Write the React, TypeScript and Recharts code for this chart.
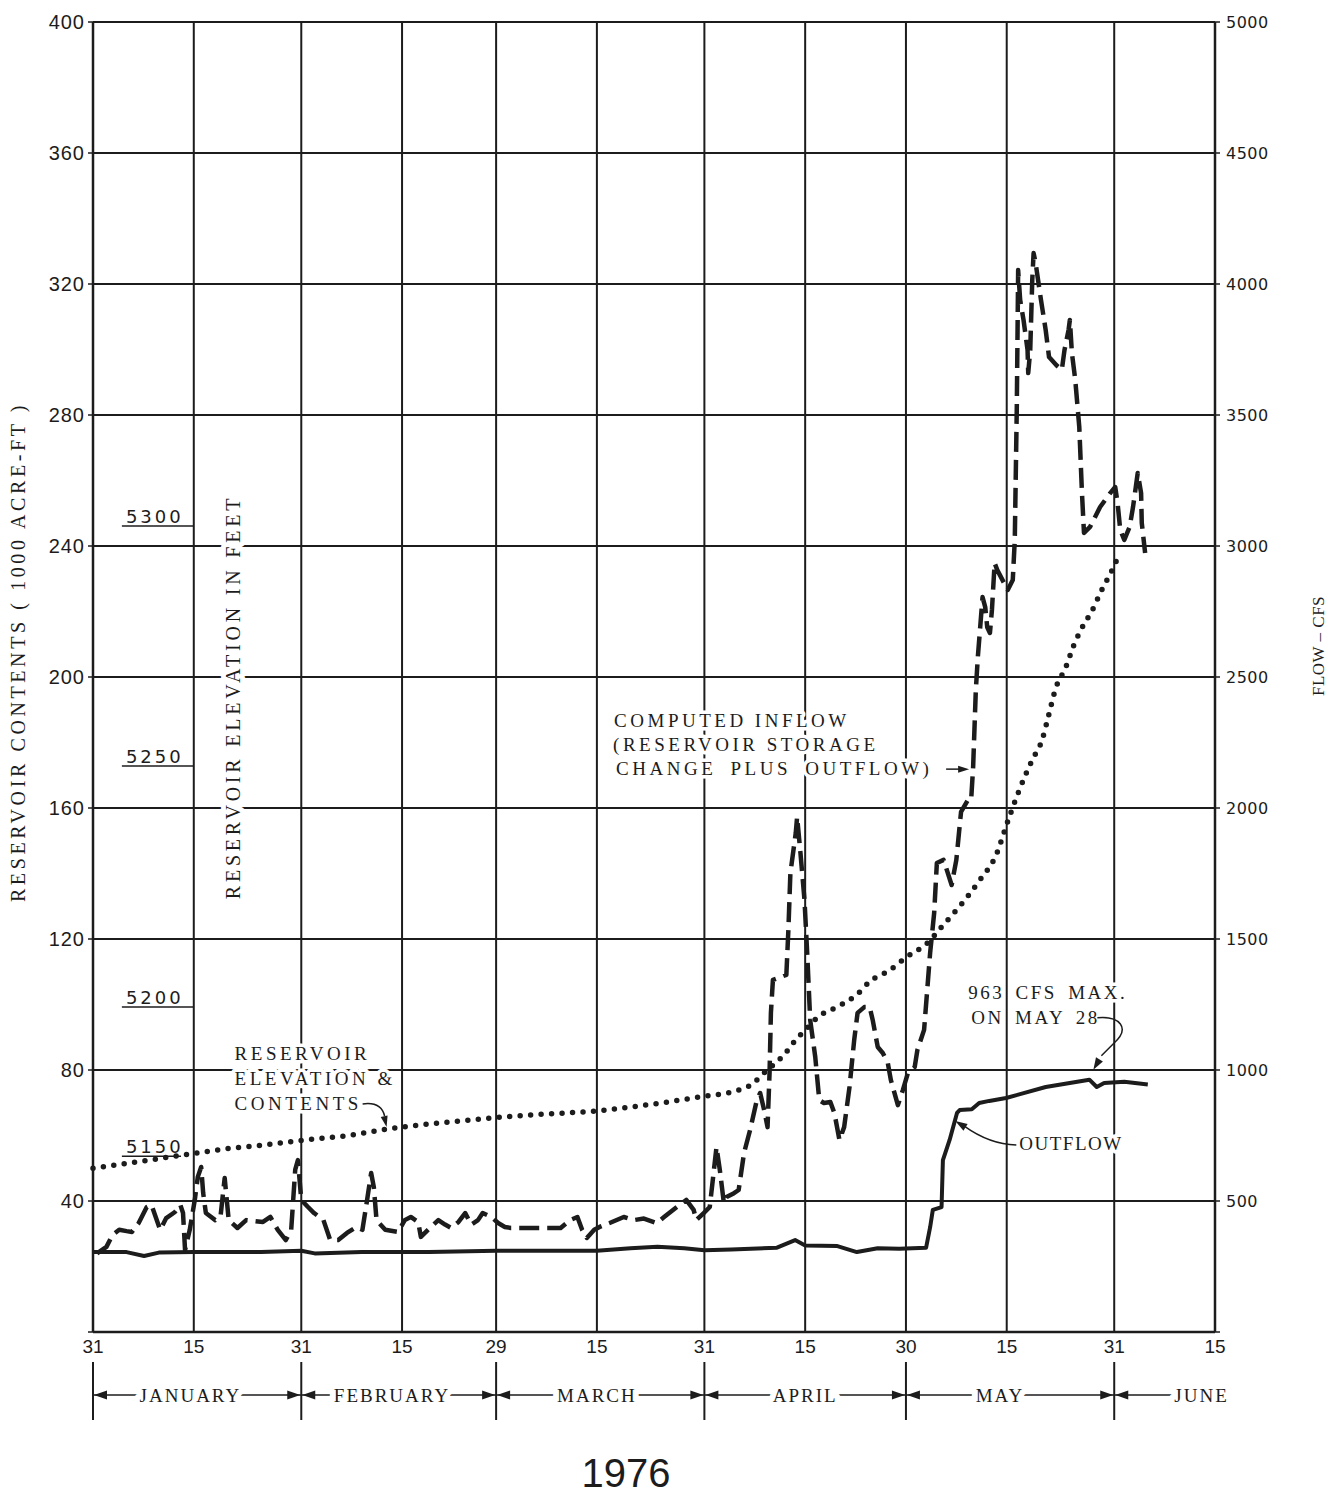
import React from "react";
import {
  ComposedChart,
  Line,
  XAxis,
  YAxis,
  CartesianGrid,
  ReferenceLine,
  ReferenceDot,
} from "recharts";

// x axis = days after Dec 31, 1975
const dayTicks = [0, 15, 31, 46, 60, 75, 91, 106, 121, 136, 152, 167];
const dayTickLabels = ["31", "15", "31", "15", "29", "15", "31", "15", "30", "15", "31", "15"];

const contentsTicks = [0, 40, 80, 120, 160, 200, 240, 280, 320, 360, 400];
const flowTicks = [0, 500, 1000, 1500, 2000, 2500, 3000, 3500, 4000, 4500, 5000];

const monthBounds = [0, 31, 60, 91, 121, 152];
const monthNames = ["JANUARY", "FEBRUARY", "MARCH", "APRIL", "MAY", "JUNE"];
const monthCenters = [14.5, 44.5, 75, 106, 135, 165];

// reservoir elevation (ft) vs contents (1000 acre-ft)
const elevationFeet = [5150, 5200, 5250, 5300];
const elevationContents = [53.7, 99.2, 172.8, 246.1];

// reservoir contents, 1000 acre-ft (dotted)
const contentsDays = [
  0, 5, 10, 15, 20, 25, 31, 38, 44, 50, 55, 60, 67, 75, 83, 91, 95.5, 98.3, 99.8, 101.5,
  103, 104.5, 106.3, 107.8, 111, 113.7, 115.6, 118.6, 121.1, 124.2, 126.3, 129, 132,
  134.5, 136, 137.7, 139.8, 141.3, 142.2, 143.3, 144.8, 146, 147.6, 148.6, 150, 151.7, 152.5,
];
const contentsKaf = [
  50, 51.5, 53, 54.5, 56, 57, 58.5, 60, 62, 63.5, 64.5, 65.5, 66.5, 67.5, 69.5, 72, 73.5, 76, 79, 82,
  85, 89, 92.8, 96, 99.5, 103, 107, 110.5, 114.5, 118.8, 123.7, 130, 138,
  146, 155, 164.6, 174.7, 181, 188, 196.6, 203, 209.8, 216.5, 219.8, 226, 232.7, 236.3,
];

// outflow, cfs (solid)
const outflowDays = [
  0, 5, 7.6, 9.8, 15, 25, 31, 33, 40, 50, 60, 70, 75, 80, 84, 88, 91, 95, 101.8, 104.5,
  106, 110.8, 113.7, 116.8, 120, 124, 124.6, 125, 126.3, 126.5, 127.5, 128.6, 129, 130.8,
  131.9, 133.4, 135.9, 141.8, 148.3, 149.4, 150.5, 153.5, 157,
];
const outflowCfs = [
  305, 305, 290, 303, 305, 305, 310, 300, 305, 305, 310, 310, 310, 320, 325, 320, 312, 315, 322, 351,
  330, 328, 305, 320, 318, 322, 400, 466, 477, 656, 733, 836, 847, 850,
  874, 882, 893, 935, 963, 935, 950, 955, 945,
];

// computed inflow, cfs (dashed)
const inflowDays = [
  0.6, 2, 2.9, 3.9, 5, 5.8, 6.8, 8, 8.7, 10, 10.9, 12.2, 13, 13.4, 13.7, 14.4, 15.15, 15.6, 16.1, 16.4,
  16.8, 18.2, 19, 19.6, 20.2, 21.5, 22.8, 25.3, 26.4, 27.5, 28.7, 29.5, 30.1, 30.5, 31, 32, 32.9, 34.3,
  35.3, 36.5, 37.8, 39.2, 40.1, 40.8, 41.4, 41.8, 42.2, 43.5, 45.4, 46.4, 47.3, 48.4, 48.8, 50.3, 51.4,
  52.4, 53.3, 54.4, 55.4, 56.3, 57.3, 58, 59.3, 60.3, 61.3, 62.2, 69.6, 71, 72.1, 72.8, 73.5, 74.6,
  75.4, 76.9, 79, 80.5, 82, 83.9, 85, 86.9, 88.3, 89.4, 89.8, 90.9, 91.8, 92.8, 93.3, 93.9, 94.3, 95.4,
  96.1, 96.9, 97.8, 98.8, 99.3, 99.9, 100.4, 100.7, 100.9, 101.2, 103.2, 103.5, 103.8, 104.6, 104.8,
  105.3, 105.9, 106.3, 106.75, 107.5, 108.1, 108.8, 109.75, 110.35, 111.1, 111.8, 112.6, 113.3, 113.8,
  114.8, 115.6, 116.05, 116.8, 117.55, 118.3, 118.75, 119.8, 120.55, 121.3, 122.3, 122.7, 123.7, 124.6,
  125.2, 125.6, 126.6, 127.8, 128.5, 129.2, 130.2, 130.7, 131, 131.4, 131.7, 132.1, 132.4, 132.8,
  133.1, 133.5, 133.8, 134.2, 134.6, 136.15, 136.9, 137.2, 137.5, 137.7, 138, 138.5, 139.1, 139.2,
  139.5, 139.8, 140, 140.3, 141.1, 141.8, 142.3, 143.4, 144.2, 144.6, 145.2, 145.4, 145.7, 146.2,
  146.8, 147.2, 147.5, 148.4, 149.9, 151.4, 152.15, 152.5, 152.9, 153.5, 154.3, 154.8, 155.5, 156,
  156.1, 156.6,
];
const inflowCfs = [
  300, 325, 370, 390, 385, 382, 416, 477, 485, 390, 435, 458, 485, 454, 313, 390, 504, 592, 630, 530,
  454, 427, 446, 588, 427, 397, 427, 420, 439, 390, 351, 390, 620, 656, 504, 477, 454, 427,
  351, 351, 378, 401, 390, 504, 607, 553, 427, 390, 382, 427, 439, 420, 363, 401, 427,
  410, 397, 420, 454, 410, 427, 454, 439, 416, 401, 397, 397, 427, 439, 390, 359, 390,
  401, 416, 439, 427, 433, 416, 439, 477, 504, 466, 427, 454, 477, 706, 618, 492, 515, 530,
  542, 683, 771, 885, 912, 847, 782, 989, 1218, 1344, 1363, 1534, 1752, 1905, 1966,
  1828, 1649, 1447, 1191, 1050, 885, 874, 878, 836, 733, 782, 935, 1115, 1218,
  1240, 1240, 1191, 1088, 1065, 1027, 962, 866, 924, 989, 1011, 1076, 1153, 1447,
  1599, 1790, 1802, 1706, 1802, 1985, 2030, 2030, 2156, 2450, 2576, 2706, 2805, 2767,
  2690, 2668, 2756, 2935, 2908, 2832, 2870, 3023, 3530, 4053, 3939, 3863, 3748, 3660,
  3748, 4015, 4118, 4080, 3939, 3824, 3721, 3690, 3672, 3748, 3824, 3863, 3737, 3634,
  3454, 3202, 3050, 3073, 3149, 3202, 3225, 3164, 3061, 3023, 3073, 3149, 3279, 3202,
  3088, 2973,
];

const zip = (xs: number[], ys: number[]) => xs.map((d, i) => ({ day: d, v: ys[i] }));
const contentsData = zip(contentsDays, contentsKaf);
const outflowData = zip(outflowDays, outflowCfs);
const inflowData = zip(inflowDays, inflowCfs);
const monthTicks = [...monthBounds, ...monthCenters].sort((a, b) => a - b);

const INK = "#1c1c1c";
const SERIF = '"Liberation Serif", "DejaVu Serif", serif';
const SANS = '"Liberation Sans", Arial, sans-serif';
const GEO = '"DejaVu Sans", sans-serif';

const noteText = {
  fontFamily: SERIF,
  fontSize: 19,
  letterSpacing: 3.5,
  fill: INK,
  stroke: "#fff",
  strokeWidth: 7,
  paintOrder: "stroke" as const,
  strokeLinejoin: "round" as const,
};

function head(tx: number, ty: number, fx: number, fy: number, len = 13, half = 4.5) {
  const a = Math.atan2(ty - fy, tx - fx);
  const bx = tx - len * Math.cos(a);
  const by = ty - len * Math.sin(a);
  const px = -Math.sin(a) * half;
  const py = Math.cos(a) * half;
  return `${tx},${ty} ${bx + px},${by + py} ${bx - px},${by - py}`;
}

function MonthTick(props: any) {
  const { x, y, payload } = props;
  const v = payload.value;
  const b = monthBounds.indexOf(v);
  if (b >= 0) {
    return (
      <g>
        <line x1={x} x2={x} y1={y - 33} y2={y + 25} stroke={INK} strokeWidth={2} />
        {b > 0 && <polygon points={head(x - 1, y, x - 20, y)} fill={INK} />}
        <polygon points={head(x + 1, y, x + 20, y)} fill={INK} />
      </g>
    );
  }
  const m = monthCenters.indexOf(v);
  return (
    <text x={x} y={y + 7} textAnchor="middle" {...noteText} letterSpacing={2} strokeWidth={12}>
      {monthNames[m]}
    </text>
  );
}

function YearLabel(props: any) {
  const vb = props.viewBox ?? { x: 93, y: 1395, width: 1122, height: 40 };
  return (
    <text x={vb.x + vb.width / 2 - 28} y={vb.y + 92} textAnchor="middle" fontFamily={SANS} fontSize={40} fill={INK}>
      1976
    </text>
  );
}

function LeftLabels(props: any) {
  const vb = props.viewBox ?? { x: 33, y: 22, width: 60, height: 1310 };
  const mid = vb.y + vb.height / 2;
  return (
    <g>
      <text
        transform={`translate(${vb.x - 15},${mid - 25}) rotate(-90)`}
        textAnchor="middle"
        dominantBaseline="central"
        fontFamily={SERIF}
        fontSize={20}
        letterSpacing={3.6}
        fill={INK}
      >
        RESERVOIR  CONTENTS  ( 1000  ACRE-FT )
      </text>
      <text
        transform={`translate(${vb.x + 200},${mid + 20}) rotate(-90)`}
        textAnchor="middle"
        dominantBaseline="central"
        {...noteText}
        fontSize={20}
        letterSpacing={3.8}
        strokeWidth={10}
      >
        RESERVOIR  ELEVATION  IN  FEET
      </text>
    </g>
  );
}

function RightLabel(props: any) {
  const vb = props.viewBox ?? { x: 1215, y: 22, width: 80, height: 1310 };
  return (
    <text
      transform={`translate(${vb.x + 103},${vb.y + 624}) rotate(-90)`}
      textAnchor="middle"
      dominantBaseline="central"
      fontFamily={SERIF}
      fontSize={17}
      letterSpacing={0.5}
      fill={INK}
    >
      FLOW – CFS
    </text>
  );
}

function ElevLabel(props: any) {
  const vb = props.viewBox;
  if (!vb) return null;
  return (
    <text x={vb.x + 4} y={vb.y - 3} fontFamily={GEO} fontSize={18} letterSpacing={3} fill={INK}>
      {props.text}
    </text>
  );
}

function InflowNote({ cx, cy }: any) {
  return (
    <g>
      <text x={cx - 357} y={cy - 40} {...noteText}>COMPUTED INFLOW</text>
      <text x={cx - 358} y={cy - 16} {...noteText}>(RESERVOIR STORAGE</text>
      <text x={cx - 355} y={cy + 8} {...noteText} wordSpacing={6}>CHANGE PLUS OUTFLOW)</text>
      <line x1={cx - 25} x2={cx - 12} y1={cy + 2} y2={cy + 2} stroke={INK} strokeWidth={1.5} />
      <polygon points={head(cx - 2, cy + 2, cx - 20, cy + 2, 11, 3.5)} fill={INK} />
    </g>
  );
}

function ContentsNote({ cx, cy }: any) {
  return (
    <g>
      <text x={cx - 154} y={cy - 68} {...noteText}>RESERVOIR</text>
      <text x={cx - 154} y={cy - 43} {...noteText}>ELEVATION &amp;</text>
      <text x={cx - 154} y={cy - 18} {...noteText}>CONTENTS</text>
      <path
        d={`M${cx - 26},${cy - 24} C${cx - 12},${cy - 26} ${cx - 6},${cy - 20} ${cx - 4},${cy - 12}`}
        fill="none"
        stroke={INK}
        strokeWidth={1.5}
      />
      <polygon points={head(cx - 2, cy - 1, cx - 5, cy - 14, 11, 3.5)} fill={INK} />
    </g>
  );
}

function MaxNote({ cx, cy }: any) {
  return (
    <g>
      <text x={cx - 121} y={cy - 81} {...noteText} letterSpacing={2.5} wordSpacing={4}>963 CFS MAX.</text>
      <text x={cx - 118} y={cy - 56} {...noteText} letterSpacing={2.5} wordSpacing={4}>ON MAY 28</text>
      <path
        d={`M${cx + 8},${cy - 62} C${cx + 30},${cy - 64} ${cx + 42},${cy - 52} ${cx + 24},${cy - 36} L${cx + 12},${cy - 24}`}
        fill="none"
        stroke={INK}
        strokeWidth={1.5}
      />
      <polygon points={head(cx + 4, cy - 10, cx + 14, cy - 27, 12, 4)} fill={INK} />
    </g>
  );
}

function OutflowNote({ cx, cy }: any) {
  return (
    <g>
      <text x={cx + 65} y={cy + 30} {...noteText} letterSpacing={1.5}>OUTFLOW</text>
      <path
        d={`M${cx + 62},${cy + 25} Q${cx + 35},${cy + 24} ${cx + 10},${cy + 6}`}
        fill="none"
        stroke={INK}
        strokeWidth={1.5}
      />
      <polygon points={head(cx + 1, cy + 1, cx + 14, cy + 9, 12, 4)} fill={INK} />
    </g>
  );
}

const ELEV_TICK_START = 4.3;
const elevTickEnd = (ft: number) => (ft === 5150 ? 13.1 : 15);

export default function App() {
  return (
    <div style={{ position: "absolute", left: 0, top: 0, width: 1333, height: 1499, background: "#fff" }}>
      <ComposedChart width={1333} height={1499} margin={{ top: 22, right: 38, left: 33, bottom: 64 }}>
        <CartesianGrid xAxisId="main" yAxisId="left" stroke={INK} strokeWidth={2} />
        <XAxis
          xAxisId="main"
          type="number"
          dataKey="day"
          domain={[0, 167]}
          ticks={dayTicks}
          interval={0}
          height={63}
          tickLine={false}
          tickSize={6}
          tickMargin={2}
          tickFormatter={(v) => dayTickLabels[dayTicks.indexOf(v)] ?? ""}
          axisLine={{ stroke: INK, strokeWidth: 2.5 }}
          tick={{ fontSize: 19, fill: INK, fontFamily: SANS }}
        />
        <XAxis
          xAxisId="months"
          type="number"
          dataKey="day"
          domain={[0, 167]}
          allowDataOverflow
          ticks={monthTicks}
          interval={0}
          height={40}
          tickLine={false}
          tickSize={0}
          tickMargin={0}
          axisLine={{ stroke: INK, strokeWidth: 1.5 }}
          tick={MonthTick}
          label={{ content: YearLabel }}
        />
        <YAxis
          yAxisId="left"
          domain={[0, 400]}
          ticks={contentsTicks}
          interval={0}
          width={60}
          tickSize={5}
          tickMargin={3}
          tickFormatter={(v) => (v === 0 ? "" : String(v))}
          axisLine={{ stroke: INK, strokeWidth: 2.5 }}
          tickLine={{ stroke: INK, strokeWidth: 1.5 }}
          tick={{ fontSize: 20, fill: INK, fontFamily: SANS, letterSpacing: 1 }}
          label={{ content: LeftLabels }}
        />
        <YAxis
          yAxisId="right"
          orientation="right"
          domain={[0, 5000]}
          ticks={flowTicks}
          interval={0}
          width={80}
          tickSize={5}
          tickMargin={6}
          tickFormatter={(v) => (v === 0 ? "" : String(v))}
          axisLine={{ stroke: INK, strokeWidth: 2.5 }}
          tickLine={{ stroke: INK, strokeWidth: 1.5 }}
          tick={{ fontSize: 16, fill: INK, fontFamily: GEO, letterSpacing: 0.5 }}
          label={{ content: RightLabel }}
        />

        {elevationFeet.map((ft, i) => (
          <ReferenceLine
            key={ft}
            xAxisId="main"
            yAxisId="left"
            segment={[
              { x: ELEV_TICK_START, y: elevationContents[i] },
              { x: elevTickEnd(ft), y: elevationContents[i] },
            ]}
            stroke={INK}
            strokeWidth={1.5}
            label={{ content: (p: any) => <ElevLabel {...p} text={String(ft)} /> }}
          />
        ))}

        {/* invisible series so the month-row axis gets a scale */}
        <Line
          xAxisId="months"
          yAxisId="left"
          data={contentsData}
          dataKey="v"
          stroke="none"
          dot={false}
          activeDot={false}
          isAnimationActive={false}
        />
        <Line
          xAxisId="main"
          yAxisId="left"
          data={contentsData}
          dataKey="v"
          type="monotone"
          stroke={INK}
          strokeWidth={5.5}
          strokeDasharray="0 10.5"
          strokeLinecap="round"
          dot={false}
          activeDot={false}
          isAnimationActive={false}
        />
        <Line
          xAxisId="main"
          yAxisId="right"
          data={outflowData}
          dataKey="v"
          type="linear"
          stroke={INK}
          strokeWidth={4}
          strokeLinejoin="round"
          dot={false}
          activeDot={false}
          isAnimationActive={false}
        />
        <Line
          xAxisId="main"
          yAxisId="right"
          data={inflowData}
          dataKey="v"
          type="linear"
          stroke={INK}
          strokeWidth={4.5}
          strokeDasharray="20 8"
          strokeLinejoin="round"
          dot={false}
          activeDot={false}
          isAnimationActive={false}
        />

        <ReferenceDot xAxisId="main" yAxisId="right" x={130.7} y={2156} shape={(p: any) => <InflowNote cx={p.cx} cy={p.cy} />} />
        <ReferenceDot xAxisId="main" yAxisId="left" x={44} y={62.3} shape={(p: any) => <ContentsNote cx={p.cx} cy={p.cy} />} />
        <ReferenceDot xAxisId="main" yAxisId="right" x={148.3} y={963} shape={(p: any) => <MaxNote cx={p.cx} cy={p.cy} />} />
        <ReferenceDot xAxisId="main" yAxisId="right" x={128.2} y={809} shape={(p: any) => <OutflowNote cx={p.cx} cy={p.cy} />} />
      </ComposedChart>
    </div>
  );
}
